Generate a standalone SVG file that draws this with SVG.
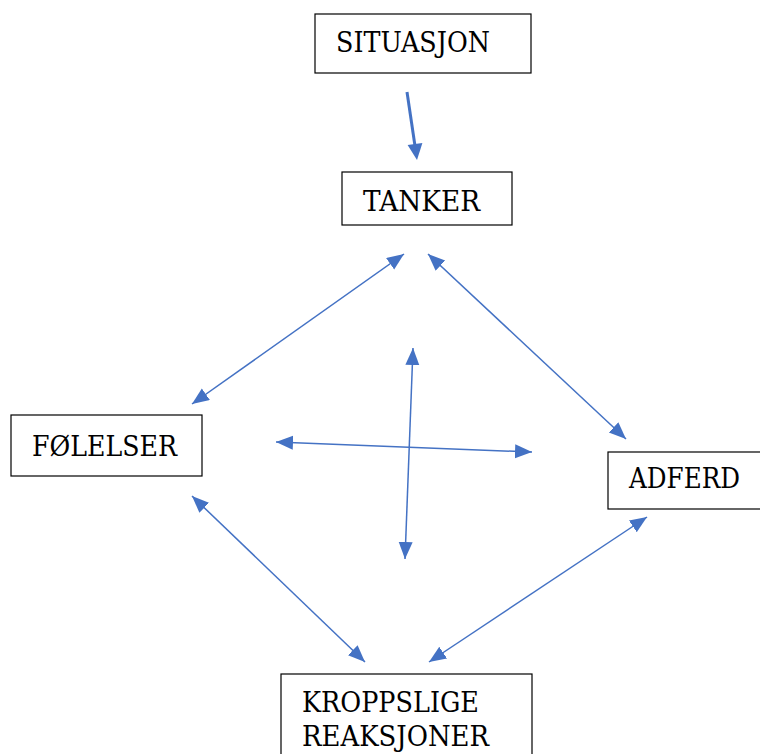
<svg xmlns="http://www.w3.org/2000/svg" width="760" height="754" viewBox="0 0 760 754">
<style>
.box{fill:#fff;stroke:#000;stroke-width:1.2}
.lbl{font-family:'DejaVu Serif',serif;font-size:27px;fill:#000}
.con{stroke:#4472C4;stroke-width:1.5;fill:none;marker-start:url(#ah);marker-end:url(#ah)}
.thick{stroke:#4472C4;stroke-width:3;fill:none}
</style>
<defs>
<marker id="ah" markerUnits="userSpaceOnUse" markerWidth="18" markerHeight="15" refX="17" refY="7" orient="auto-start-reverse" viewBox="0 0 18 15">
<path d="M0,0 L17,7 L0,14 z" fill="#4472C4"/>
</marker>
</defs>
<g id="situasjon"><rect class="box" x="315" y="14" width="216" height="59"/><text class="lbl" x="336" y="52" textLength="154" lengthAdjust="spacingAndGlyphs">SITUASJON</text></g>
<g id="tanker"><rect class="box" x="342" y="172" width="170" height="53"/><text class="lbl" x="363" y="211" textLength="117" lengthAdjust="spacingAndGlyphs">TANKER</text></g>
<g id="folelser"><rect class="box" x="11" y="415" width="191" height="61"/><text class="lbl" x="32" y="456" textLength="145" lengthAdjust="spacingAndGlyphs">FØLELSER</text></g>
<g id="adferd"><rect class="box" x="608" y="452" width="160" height="57"/><text class="lbl" x="629" y="488" textLength="111" lengthAdjust="spacingAndGlyphs">ADFERD</text></g>
<g id="kroppslige"><rect class="box" x="281" y="674" width="251" height="90"/><text class="lbl" x="302" y="712" textLength="177" lengthAdjust="spacingAndGlyphs">KROPPSLIGE</text><text class="lbl" x="302" y="746" textLength="187" lengthAdjust="spacingAndGlyphs">REAKSJONER</text></g>
<g id="connectors">
<line class="thick" x1="407" y1="92" x2="415" y2="146"/>
<path d="M407.6,145.1 L422.4,142.9 L417,160 z" fill="#4472C4"/>
<line class="con" x1="404" y1="254" x2="192" y2="404"/>
<line class="con" x1="428" y1="254" x2="626" y2="439"/>
<line class="con" x1="413" y1="348" x2="405" y2="559"/>
<line class="con" x1="276" y1="442" x2="532" y2="452"/>
<line class="con" x1="192" y1="496" x2="365" y2="662"/>
<line class="con" x1="647" y1="517" x2="429" y2="662"/>
</g>
</svg>
